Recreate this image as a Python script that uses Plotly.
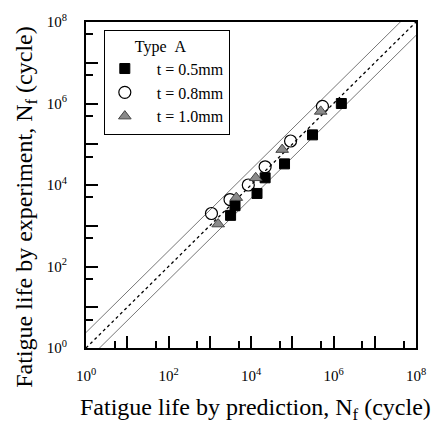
import plotly.graph_objects as go

# Data
sq_pred = [1.55e6, 3.1e5, 6.5e4, 2.2e4, 1.4e4, 4.1e3, 3.2e3]
sq_exp = [1.0e6, 1.7e5, 3.3e4, 1.5e4, 6.2e3, 3.1e3, 1.8e3]

ci_pred = [5.4e5, 9.1e4, 2.2e4, 8.6e3, 3.1e3, 1.1e3]
ci_exp = [8.5e5, 1.2e5, 2.8e4, 1.0e4, 4.4e3, 2.0e3]

tr_pred = [4.9e5, 5.7e4, 1.3e4, 4.4e3, 1.6e3]
tr_exp = [6.4e5, 7.4e4, 1.5e4, 4.9e3, 1.1e3]

line_x = [1, 1e8]
band_upper = 2.4
band_lower = 0.47

major_vals = [10 ** k for k in range(0, 9)]
major_text = ["10<sup>%d</sup>" % k if k % 2 == 0 else "" for k in range(0, 9)]
minor_vals = [5 * 10 ** k for k in range(0, 8)]

x_title = "Fatigue life by prediction, N<sub>f</sub> (cycle)"
y_title = "Fatigue life by experiment, N<sub>f</sub> (cycle)"

serif = "Liberation Serif, Times New Roman, serif"
NB = "\u00a0"

fig = go.Figure()

fig.add_trace(go.Scatter(x=line_x, y=[v * band_upper for v in line_x], mode="lines",
                         line=dict(color="#777777", width=1), showlegend=False, hoverinfo="skip"))
fig.add_trace(go.Scatter(x=line_x, y=[v * band_lower for v in line_x], mode="lines",
                         line=dict(color="#777777", width=1), showlegend=False, hoverinfo="skip"))
fig.add_trace(go.Scatter(x=line_x, y=line_x, mode="lines",
                         line=dict(color="black", width=1.3, dash="dot"), showlegend=False, hoverinfo="skip"))

fig.add_trace(go.Scatter(x=sq_pred, y=sq_exp, mode="markers", name=NB * 3 + "t = 0.5mm",
                         marker=dict(symbol="square", size=10, color="black",
                                     line=dict(color="black", width=1))))
fig.add_trace(go.Scatter(x=ci_pred, y=ci_exp, mode="markers", name=NB * 3 + "t = 0.8mm",
                         marker=dict(symbol="circle-open", size=12, color="black",
                                     line=dict(color="black", width=1.2))))
fig.add_trace(go.Scatter(x=tr_pred, y=tr_exp, mode="markers", name=NB * 3 + "t = 1.0mm",
                         marker=dict(symbol="triangle-up", size=11, color="#8a8a8a",
                                     line=dict(color="#444444", width=1))))

axis_common = dict(
    type="log", range=[0, 8], showgrid=False, zeroline=False,
    showline=True, linecolor="black", linewidth=2, mirror=True,
    ticks="inside", ticklen=12, tickwidth=1.5, tickcolor="black",
    tickmode="array", tickvals=major_vals, ticktext=major_text,
    tickfont=dict(family=serif, size=15, color="black"),
    minor=dict(tickmode="array", tickvals=minor_vals, ticks="inside",
               ticklen=7, tickwidth=1.5, tickcolor="black", showgrid=False),
)

fig.update_xaxes(**axis_common, ticklabelstandoff=13)
fig.update_yaxes(**axis_common, ticklabelstandoff=14)

fig.add_annotation(text=x_title, xref="paper", yref="paper", x=0.515, y=-0.187,
                   xanchor="center", yanchor="middle", showarrow=False,
                   font=dict(family=serif, size=24, color="black"))
fig.add_annotation(text=y_title, xref="paper", yref="paper", x=-0.181, y=0.431,
                   xanchor="center", yanchor="middle", textangle=-90, showarrow=False,
                   font=dict(family=serif, size=24, color="black"))

fig.update_layout(
    width=438, height=423,
    margin=dict(l=86, r=20, t=16, b=75),
    paper_bgcolor="white", plot_bgcolor="white",
    legend=dict(
        x=0.054, y=0.976, xanchor="left", yanchor="top",
        bgcolor="white", bordercolor="black", borderwidth=1,
        font=dict(family=serif, size=16, color="black"),
        title=dict(text=NB * 7 + "Type" + NB * 2 + "A" + NB * 4,
                   font=dict(family=serif, size=16, color="black")),
        itemwidth=30, tracegroupgap=0,
    ),
    showlegend=True,
)

fig.write_html("out.html")
